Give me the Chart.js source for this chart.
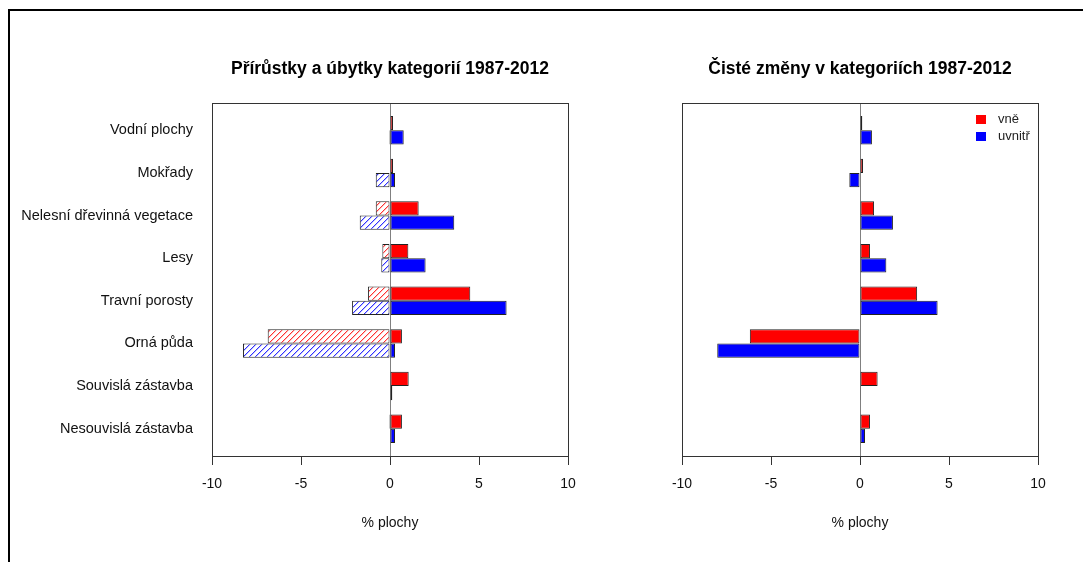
<!DOCTYPE html>
<html>
<head>
<meta charset="utf-8">
<script src="https://cdn.jsdelivr.net/npm/chart.js@4"></script>
<style>
  html, body { margin: 0; padding: 0; background: #fff; }
  #wrap { position: relative; width: 1083px; height: 562px; overflow: hidden; }
  #frame { position: absolute; left: 8px; top: 9px; width: 1200px; height: 700px;
           border-left: 2px solid #000; border-top: 2px solid #000; }
  canvas { position: absolute; top: 0; }
  #c1 { left: 0; }
  #c2 { left: 600px; }
</style>
</head>
<body>
<div id="wrap">
  <div id="frame"></div>
  <canvas id="c1" width="600" height="562"></canvas>
  <canvas id="c2" width="483" height="562"></canvas>
</div>
<script>
// Land-cover categories, top to bottom
const categories = [
  'Vodní plochy', 'Mokřady', 'Nelesní dřevinná vegetace', 'Lesy',
  'Travní porosty', 'Orná půda', 'Souvislá zástavba', 'Nesouvislá zástavba'
];

// Gains and losses (% of area), 1987-2012
const gainOut = [0.17, 0.17, 1.61, 1.03, 4.51, 0.67, 1.05, 0.67];
const lossOut = [0, 0, -0.80, -0.43, -1.24, -6.87, 0, -0.06];
const gainIn  = [0.77, 0.28, 3.61, 2.00, 6.55, 0.28, 0.13, 0.28];
const lossIn  = [-0.06, -0.80, -1.70, -0.49, -2.13, -8.26, 0, 0];

// Net changes (% of area), 1987-2012
const netOut = [0.13, 0.17, 0.79, 0.56, 3.21, -6.19, 0.99, 0.56];
const netIn  = [0.67, -0.60, 1.85, 1.48, 4.36, -8.02, 0.05, 0.28];

const xTicks = [-10, -5, 0, 5, 10];
const seriesNames = ['vně', 'uvnitř'];
const titles = ['Přírůstky a úbytky kategorií 1987-2012', 'Čisté změny v kategoriích 1987-2012'];
const axisTitle = '% plochy';

const FONT = "'Liberation Sans', Arial, sans-serif";
const RED = '#ff0000', BLUE = '#0000ff';

// Row centres on a linear index axis: 3 units per category (2 bars + 1 gap)
const rowPos = categories.map((_, i) => 3 * (categories.length - 1 - i) + 2);
const points = vals => vals.map((v, i) => ({ x: v, y: rowPos[i] }));

// Diagonal hatching for the loss bars: a stair line with a soft edge
function hatch(ctx, color, soft) {
  const s = 6;
  const c = document.createElement('canvas');
  c.width = s; c.height = s;
  const g = c.getContext('2d');
  g.fillStyle = '#fff';
  g.fillRect(0, 0, s, s);
  for (let i = 0; i < s; i++) {
    g.fillStyle = color;
    g.fillRect(i, s - 1 - i, 1, 1);
    g.fillStyle = soft;
    g.fillRect((i + 1) % s, s - 1 - i, 1, 1);
  }
  return ctx.createPattern(c, 'repeat');
}

// Frame around the plotting region
const boxPlugin = {
  id: 'box',
  afterDraw(chart) {
    const { ctx, chartArea: a } = chart;
    ctx.save();
    ctx.strokeStyle = '#333';
    ctx.lineWidth = 1;
    ctx.strokeRect(Math.round(a.left) + 0.5, Math.round(a.top) + 0.5,
                   Math.round(a.right - a.left), Math.round(a.bottom - a.top));
    ctx.restore();
  }
};

// Small legend in the upper right corner of the net-change panel
const legendPlugin = {
  id: 'cornerLegend',
  afterDraw(chart) {
    const { ctx, chartArea: a } = chart;
    const colors = [RED, BLUE];
    ctx.save();
    ctx.font = '13px ' + FONT;
    ctx.textBaseline = 'middle';
    ctx.textAlign = 'left';
    seriesNames.forEach((name, i) => {
      const y = a.top + 12 + i * 17;
      ctx.fillStyle = colors[i];
      ctx.fillRect(a.right - 62, y, 10, 9);
      ctx.fillStyle = '#222';
      ctx.fillText(name, a.right - 40, y + 4.5);
    });
    ctx.restore();
  }
};

function barStyle(bg) {
  return {
    backgroundColor: bg,
    borderColor: '#222',
    borderWidth: 1,
    borderSkipped: false,
    categoryPercentage: 2 / 3,
    barPercentage: 1
  };
}

function xScale(stacked) {
  return {
    type: 'linear', min: -10, max: 10, stacked,
    afterBuildTicks: s => { s.ticks = xTicks.map(v => ({ value: v })); },
    ticks: { font: { family: FONT, size: 14 }, color: '#111', padding: 11, maxRotation: 0 },
    grid: {
      color: c => (c.tick && c.tick.value === 0) ? '#808080' : 'rgba(0,0,0,0)',
      tickColor: '#333', tickLength: 9, lineWidth: 1
    },
    border: { display: false },
    title: { display: true, text: axisTitle, font: { family: FONT, size: 14 }, color: '#111',
             padding: { top: 0, bottom: 30 } },
    afterFit: s => { s.height = 106; }
  };
}

function yScale(showLabels, width) {
  return {
    type: 'linear', min: 0.08, max: 24.92, offset: false,
    afterBuildTicks: s => { s.ticks = rowPos.map(v => ({ value: v })); },
    ticks: {
      display: showLabels,
      callback: v => categories[rowPos.indexOf(v)],
      font: { family: FONT, size: 14.5 }, color: '#111', padding: 19
    },
    grid: { display: false, drawTicks: false, offset: false },
    border: { display: false },
    afterFit: s => { s.width = width; }
  };
}

function titleOpts(text) {
  return {
    display: true, text, fullSize: false,
    font: { family: FONT, size: 17.5, weight: 'bold' }, color: '#000',
    padding: { top: 59, bottom: 23 }
  };
}

const ctx1 = document.getElementById('c1').getContext('2d');
new Chart(ctx1, {
  type: 'bar',
  data: {
    datasets: [
      { label: seriesNames[0], data: points(gainOut), stack: 'out', ...barStyle(RED) },
      { label: seriesNames[0], data: points(lossOut), stack: 'out', ...barStyle(hatch(ctx1, '#ff3030', '#ffc0c0')) },
      { label: seriesNames[1], data: points(gainIn), stack: 'in', ...barStyle(BLUE) },
      { label: seriesNames[1], data: points(lossIn), stack: 'in', ...barStyle(hatch(ctx1, '#3030ff', '#c0c0ff')) }
    ]
  },
  options: {
    indexAxis: 'y',
    responsive: false,
    devicePixelRatio: 1,
    animation: false,
    layout: { padding: { left: 0, right: 32, top: 0, bottom: 0 } },
    scales: { x: xScale(true), y: yScale(true, 212) },
    plugins: { legend: { display: false }, tooltip: { enabled: false }, title: titleOpts(titles[0]) }
  },
  plugins: [boxPlugin]
});

const ctx2 = document.getElementById('c2').getContext('2d');
new Chart(ctx2, {
  type: 'bar',
  data: {
    datasets: [
      { label: seriesNames[0], data: points(netOut), ...barStyle(RED) },
      { label: seriesNames[1], data: points(netIn), ...barStyle(BLUE) }
    ]
  },
  options: {
    indexAxis: 'y',
    responsive: false,
    devicePixelRatio: 1,
    animation: false,
    layout: { padding: { left: 0, right: 45, top: 0, bottom: 0 } },
    scales: { x: xScale(false), y: yScale(false, 82) },
    plugins: { legend: { display: false }, tooltip: { enabled: false }, title: titleOpts(titles[1]) }
  },
  plugins: [boxPlugin, legendPlugin]
});
</script>
</body>
</html>
